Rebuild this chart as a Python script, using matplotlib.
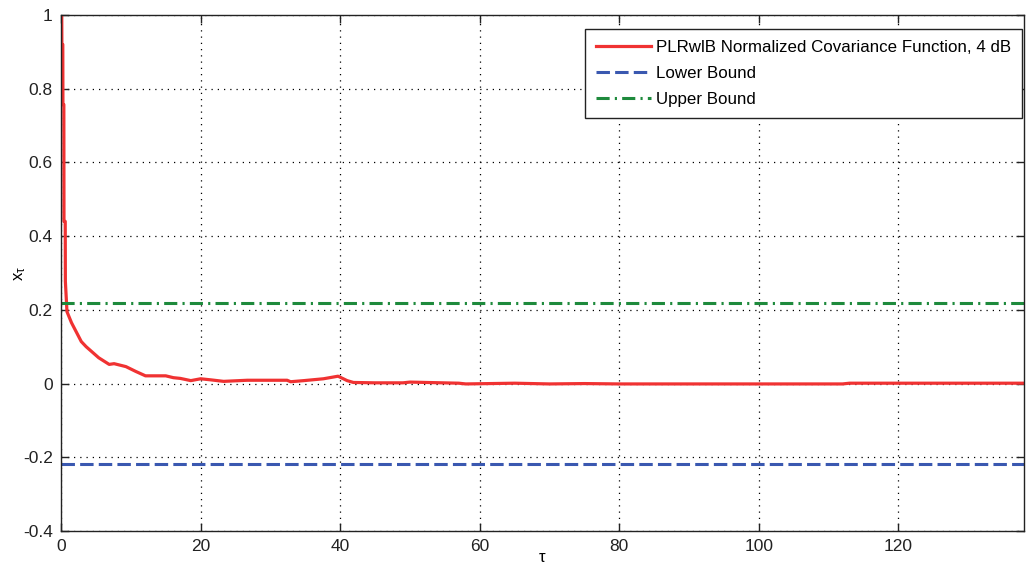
import numpy as np
import matplotlib.pyplot as plt

plt.rcParams['font.family'] = ['Liberation Sans', 'DejaVu Sans']
plt.rcParams['mathtext.fontset'] = 'custom'
plt.rcParams['mathtext.rm'] = 'Liberation Sans'

# data
tau = [0, 0.1, 0.12, 0.25, 0.27, 0.4, 0.42, 0.6, 0.62, 0.85, 1.5, 2.9, 3.6, 5.4, 6.9,
       7.6, 9.3, 10.7, 12.1, 15.0, 16.1, 17.1, 18.6, 20.0, 21.5, 23.3, 26.7, 32.4,
       32.9, 34.8, 37.6, 39.7, 41.0, 41.9, 45.0, 49.0, 50.0, 57.0, 58.0, 65.0, 70.0,
       75.0, 80.0, 90.0, 100.0, 112.0, 113.0, 125.0, 138.0]
cov = [1.0, 1.0, 0.92, 0.92, 0.757, 0.757, 0.44, 0.44, 0.277, 0.195, 0.165, 0.114,
       0.10, 0.07, 0.052, 0.054, 0.046, 0.033, 0.021, 0.021, 0.016, 0.014, 0.008,
       0.013, 0.010, 0.006, 0.009, 0.009, 0.005, 0.008, 0.013, 0.020, 0.008, 0.003,
       0.002, 0.002, 0.004, 0.001, -0.001, 0.001, -0.001, 0.0, -0.001, -0.001,
       -0.001, -0.001, 0.001, 0.001, 0.001]
lower_bound = -0.2175
upper_bound = 0.2195

xticks = [0, 20, 40, 60, 80, 100, 120]
yticks = [-0.4, -0.2, 0, 0.2, 0.4, 0.6, 0.8, 1]
ytick_labels = ['-0.4', '-0.2', '0', '0.2', '0.4', '0.6', '0.8', '1']

fig = plt.figure(figsize=(10.26, 5.69), dpi=100)
ax = fig.add_axes([0.0595, 0.0668, 0.9385, 0.9068])

ax.plot(tau, cov, color='#f03232', linewidth=2.3,
        label='PLRwlB Normalized Covariance Function, 4 dB')
ax.axhline(lower_bound, color='#3a58b0', linewidth=2.2, linestyle=(0, (4.4, 1.7)),
           label='Lower Bound')
ax.axhline(upper_bound, color='#1e8a3c', linewidth=2.2,
           linestyle=(0, (4.3, 1.7, 0.7, 1.7)), label='Upper Bound')

ax.set_xlim(0, 138)
ax.set_ylim(-0.4, 1)
ax.set_xticks(xticks)
ax.set_yticks(yticks)
ax.set_yticklabels(ytick_labels)
ax.tick_params(direction='in', length=6, width=1, top=True, right=True,
               labelsize=12.5, pad=6, colors='#222222')
ax.grid(True, color='black', linestyle=(0, (1, 4)), linewidth=0.9)
for s in ax.spines.values():
    s.set_linewidth(1.0)
    s.set_color('#222222')

ax.set_xlabel('τ', fontsize=12, labelpad=-3)
ax.set_ylabel(r'$\mathregular{x_\tau}$', fontsize=12)
ax.yaxis.set_label_coords(-0.034, 0.5)

leg = ax.legend(loc='upper right', fontsize=12.2, frameon=True, fancybox=False,
                edgecolor='#222222', framealpha=1, handlelength=3.25,
                handletextpad=0.3, borderpad=0.63, labelspacing=0.66,
                borderaxespad=0, bbox_to_anchor=(0.998, 0.973))
leg.get_frame().set_linewidth(1.0)

fig.savefig('out.png', dpi=100)
